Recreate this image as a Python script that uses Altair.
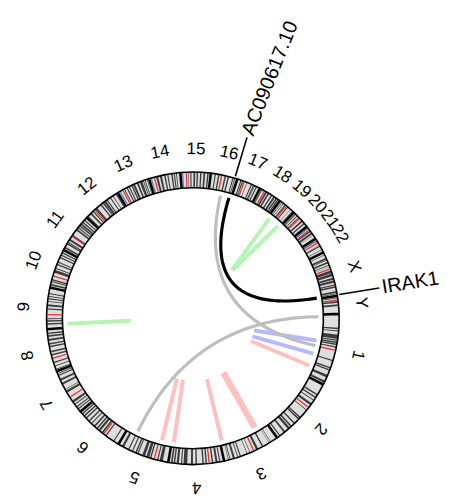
import altair as alt
import pandas as pd
import numpy as np

# ---------------- data ----------------
chrom_names = ["1", "2", "3", "4", "5", "6", "7", "8", "9", "10", "11", "12",
               "13", "14", "15", "16", "17", "18", "19", "20", "21", "22", "X", "Y"]
chrom_lengths_mb = [249.25, 243.20, 198.02, 191.15, 180.92, 171.12, 159.14, 146.36,
                    141.21, 135.53, 135.01, 133.85, 115.17, 107.35, 102.53, 90.35,
                    81.20, 78.08, 59.13, 63.03, 48.13, 51.30, 155.27, 59.37]
centromere_mb = [125.0, 93.3, 91.0, 50.4, 48.4, 61.0, 59.9, 45.6, 49.0, 40.2, 53.7, 35.8,
                 17.9, 17.6, 19.0, 36.6, 24.0, 17.2, 26.5, 27.5, 13.2, 14.7, 60.6, 12.5]
stalk_chrom = ["13", "14", "15", "21", "22"]
stalk_mb = [7.0, 6.0, 6.0, 5.0, 6.0]

# approximate dark (G-positive) bands per chromosome, Mb
dark_bands = {
    "1": [(46, 51), (56, 59), (70, 85), (88, 92), (95, 100), (102, 107), (112, 116), (160, 164),
          (186, 191), (194, 199), (215, 224), (237, 244)],
    "2": [(37, 42), (48, 53), (61, 64), (75, 83), (103, 106), (136, 141), (143, 148), (164, 169),
          (179, 185), (188, 197), (209, 215), (231, 235)],
    "3": [(24, 26), (31, 32), (54, 59), (74, 82), (104, 106), (115, 117), (139, 143), (149, 152),
          (161, 168), (177, 180), (183, 185)],
    "4": [(11, 15), (21, 28), (36, 41), (58, 63), (69, 74), (93, 98), (107, 114), (127, 140),
          (145, 149), (156, 164), (169, 174), (178, 184)],
    "5": [(18, 29), (34, 38), (59, 64), (67, 77), (82, 92), (106, 110), (113, 118), (127, 131),
          (141, 145), (161, 169)],
    "6": [(16, 20), (49, 53), (64, 70), (76, 84), (88, 93), (99, 105), (114, 118), (126, 131),
          (140, 145), (150, 155), (160, 165)],
    "7": [(8, 12), (17, 21), (28, 32), (37, 45), (78, 86), (90, 92), (110, 117), (125, 132),
          (143, 147), (151, 154)],
    "8": [(4, 7), (16, 19), (28, 32), (55, 60), (66, 72), (84, 89), (94, 99), (107, 114),
          (121, 127), (131, 136)],
    "9": [(14, 19), (24, 29), (33, 36), (66, 71), (78, 85), (93, 96), (102, 106), (111, 114),
          (120, 124)],
    "10": [(6, 12), (18, 22), (24, 29), (52, 62), (66, 70), (80, 85), (89, 93), (106, 111),
           (116, 120), (124, 129)],
    "11": [(5, 11), (21, 26), (27, 31), (36, 43), (55, 60), (79, 85), (89, 93), (97, 102),
           (104, 110), (113, 118), (123, 127)],
    "12": [(3, 6), (15, 21), (27, 31), (39, 47), (62, 67), (72, 77), (78, 86), (89, 93),
           (103, 107), (115, 117), (127, 131)],
    "13": [(23, 26), (33, 37), (41, 45), (51, 56), (58, 65), (72, 78), (83, 92), (95, 98),
           (101, 104), (109, 111)],
    "14": [(24, 31), (37, 44), (52, 57), (63, 67), (77, 82), (86, 90), (94, 97)],
    "15": [(26, 28), (33, 37), (44, 50), (55, 60), (67, 72), (79, 85), (92, 97)],
    "16": [(12, 16), (24, 29), (47, 52), (58, 63), (75, 79), (82, 85)],
    "17": [(10, 14), (16, 20), (33, 35), (49, 53), (57, 61), (62, 64), (68, 72)],
    "18": [(4, 8), (15, 17), (21, 27), (30, 36), (43, 48), (53, 60), (63, 68), (70, 75)],
    "19": [(6, 8), (13, 15), (20, 24), (31, 35), (45, 46), (54, 57)],
    "20": [(5, 9), (14, 17), (22, 25), (37, 43), (49, 54)],
    "21": [(3, 7), (16, 21), (24, 31), (35, 36)],
    "22": [(6, 9), (24, 25), (26, 30), (41, 43)],
    "X": [(7, 9), (19, 25), (26, 29), (34, 40), (45, 48), (53, 54), (66, 76), (78, 87), (92, 99),
          (102, 110), (116, 120), (122, 128), (140, 146), (148, 151)],
    "Y": [(4, 7), (15, 16), (17, 22), (28, 34)],
}

# curved links (chromosome, Mb) -> (chromosome, Mb)
curve_chr1 = ["16", "16", "5"]
curve_pos1 = [83.0, 48.0, 141.5]
curve_chr2 = ["X", "1", "1"]
curve_pos2 = [153.3, 124.6, 7.0]
curve_color = ["#000000", "#bebebe", "#bebebe"]

# straight links: outer end / inner end on same chromosome
seg_chr = ["9", "19", "19", "5", "4", "3", "3", "1", "1", "1"]
seg_outer = [14.0, 6.9, 52.0, 38.1, 184.1, 191.4, 48.2, 208.5, 103.4, 158.1]
seg_inner = [15.8, 20.2, 26.4, 43.4, 188.6, 194.0, 50.0, 202.3, 112.2, 162.6]
seg_color = ["#b4f5b4", "#b4f5b4", "#b4f5b4", "#ffc0c0", "#ffc0c0", "#ffc0c0",
             "#ffc0c0", "#ffc0c0", "#b8b8ff", "#b8b8ff"]
seg_width = [4, 4, 4, 4, 4, 4, 6.5, 4, 4, 4]

gene_names = ["AC090617.10", "IRAK1"]
gene_chr = ["16", "X"]
gene_pos = [83.0, 153.3]

# ---------------- layout ----------------
CX, CY = 195.0, 319.0
R_OUT, R_IN = 148, 132
R_LINK_OUT, R_LINK_IN = 127, 63
START, GAP = -1.5, 0.4
total = sum(chrom_lengths_mb)
K = (360 - GAP * len(chrom_names)) / total
cum = np.concatenate([[0], np.cumsum(chrom_lengths_mb)[:-1]])
idx = {c: i for i, c in enumerate(chrom_names)}
label_tilt = [5.0, 0.0]      # extra text rotation of the gene labels


def ang(c, p):
    i = idx[c]
    return START + (cum[i] + p) * K + i * GAP


def xy(a, r):
    t = np.deg2rad(a)
    return CX + r * np.cos(t), CY + r * np.sin(t)


# chromosome arcs
rows = []
for c, L in zip(chrom_names, chrom_lengths_mb):
    a0, a1 = ang(c, 0), ang(c, L)
    am = (a0 + a1) / 2
    lx, ly = xy(am, 171)
    rows.append(dict(chrom=c, t0=np.deg2rad(a0 + 90), t1=np.deg2rad(a1 + 90),
                     lx=lx, ly=ly, rot=(am + 90) % 360))
chr_df = pd.DataFrame(rows)

band_rows = []
for c, bl in dark_bands.items():
    for s, e in bl:
        band_rows.append(dict(t0=np.deg2rad(ang(c, s) + 90), t1=np.deg2rad(ang(c, e) + 90)))
band_df = pd.DataFrame(band_rows)

# centromere / stalk ticks
tick_rows = []
for c, p in zip(chrom_names, centromere_mb):
    a = ang(c, p)
    x1, y1 = xy(a, R_IN + 1)
    x2, y2 = xy(a, R_OUT - 1)
    tick_rows.append(dict(x=x1, y=y1, x2=x2, y2=y2, col="#e8332e"))
for c, p in zip(stalk_chrom, stalk_mb):
    a = ang(c, p)
    x1, y1 = xy(a, R_IN + 1)
    x2, y2 = xy(a, R_OUT - 1)
    tick_rows.append(dict(x=x1, y=y1, x2=x2, y2=y2, col="#5f7fc8"))
tick_df = pd.DataFrame(tick_rows)

# curves
crow = []
for k, (c1, p1, c2, p2, col) in enumerate(zip(curve_chr1, curve_pos1, curve_chr2, curve_pos2, curve_color)):
    x0, y0 = xy(ang(c1, p1), R_LINK_OUT)
    x2, y2 = xy(ang(c2, p2), R_LINK_OUT)
    crow.append(dict(id=k, x0=x0, y0=y0, x2=x2, y2=y2, cx=CX, cy=CY, col=col))
curve_df = pd.DataFrame(crow)

# segments
srow = []
for c, po, pi, col, w in zip(seg_chr, seg_outer, seg_inner, seg_color, seg_width):
    x1, y1 = xy(ang(c, po), R_LINK_OUT)
    x2, y2 = xy(ang(c, pi), R_LINK_IN)
    srow.append(dict(x=x1, y=y1, x2=x2, y2=y2, col=col, w=w))
seg_df = pd.DataFrame(srow)

# gene labels
grow = []
for g, c, p, tl in zip(gene_names, gene_chr, gene_pos, label_tilt):
    a = ang(c, p)
    x1, y1 = xy(a, 150)
    x2, y2 = xy(a, 191)
    tx, ty = xy(a, 194)
    grow.append(dict(name=g, x=x1, y=y1, x2=x2, y2=y2, tx=tx, ty=ty, rot=(a + tl) % 360))
gene_df = pd.DataFrame(grow)

W, H = 433, 484
xs = alt.Scale(domain=[8, 8 + W])
ys = alt.Scale(domain=[8, 8 + H], reverse=True)

ring = alt.Chart(chr_df).mark_arc(
    x=CX - 8, y=CY - 8, radius=R_OUT, radius2=R_IN, fill="#dedede", strokeWidth=0
).encode(
    theta=alt.Theta("t0:Q", scale=None, stack=None),
    theta2=alt.Theta2("t1:Q"),
)

bands = alt.Chart(band_df).mark_arc(
    x=CX - 8, y=CY - 8, radius=R_OUT, radius2=R_IN, fill="#3c3c3c", strokeWidth=0
).encode(
    theta=alt.Theta("t0:Q", scale=None, stack=None),
    theta2=alt.Theta2("t1:Q"),
)

outline = alt.Chart(chr_df).mark_arc(
    x=CX - 8, y=CY - 8, radius=R_OUT, radius2=R_IN,
    fill="#ffffff", fillOpacity=0, stroke="#000000", strokeWidth=1.6
).encode(
    theta=alt.Theta("t0:Q", scale=None, stack=None),
    theta2=alt.Theta2("t1:Q"),
)

ticks = alt.Chart(tick_df).mark_rule(strokeWidth=1.3).encode(
    x=alt.X("x:Q", scale=xs, axis=None), y=alt.Y("y:Q", scale=ys, axis=None),
    x2="x2:Q", y2="y2:Q", color=alt.Color("col:N", scale=None),
)

segs = alt.Chart(seg_df).mark_rule(strokeCap="butt").encode(
    x=alt.X("x:Q", scale=xs, axis=None), y=alt.Y("y:Q", scale=ys, axis=None),
    x2="x2:Q", y2="y2:Q", color=alt.Color("col:N", scale=None),
    strokeWidth=alt.StrokeWidth("w:Q", scale=None),
)

curves = alt.Chart(curve_df).transform_calculate(
    t="sequence(0, 1.0001, 0.02)"
).transform_flatten(["t"]).transform_calculate(
    bx="(1-datum.t)*(1-datum.t)*datum.x0 + 2*(1-datum.t)*datum.t*datum.cx + datum.t*datum.t*datum.x2",
    by="(1-datum.t)*(1-datum.t)*datum.y0 + 2*(1-datum.t)*datum.t*datum.cy + datum.t*datum.t*datum.y2",
).mark_line(strokeWidth=3.2).encode(
    x=alt.X("bx:Q", scale=xs, axis=None), y=alt.Y("by:Q", scale=ys, axis=None),
    detail="id:N", order="t:Q", color=alt.Color("col:N", scale=None),
)

chr_labels = alt.Chart(chr_df).mark_text(
    font="Liberation Sans", fontSize=17, align="center", baseline="middle", color="#000000"
).encode(
    x=alt.X("lx:Q", scale=xs, axis=None), y=alt.Y("ly:Q", scale=ys, axis=None),
    text="chrom:N", angle=alt.Angle("rot:Q", scale=None),
)

gene_lines = alt.Chart(gene_df).mark_rule(strokeWidth=1.6, color="#000000").encode(
    x=alt.X("x:Q", scale=xs, axis=None), y=alt.Y("y:Q", scale=ys, axis=None),
    x2="x2:Q", y2="y2:Q",
)

gene_text = alt.Chart(gene_df).mark_text(
    font="Liberation Sans", fontSize=20, align="left", baseline="middle", color="#000000"
).encode(
    x=alt.X("tx:Q", scale=xs, axis=None), y=alt.Y("ty:Q", scale=ys, axis=None),
    text="name:N", angle=alt.Angle("rot:Q", scale=None),
)

chart = alt.layer(ring, bands, ticks, outline, segs, curves, chr_labels, gene_lines, gene_text).properties(
    width=W, height=H, padding=0
).configure_view(stroke=None)

chart.save("out.html", embed_options={"renderer": "svg", "actions": False})
